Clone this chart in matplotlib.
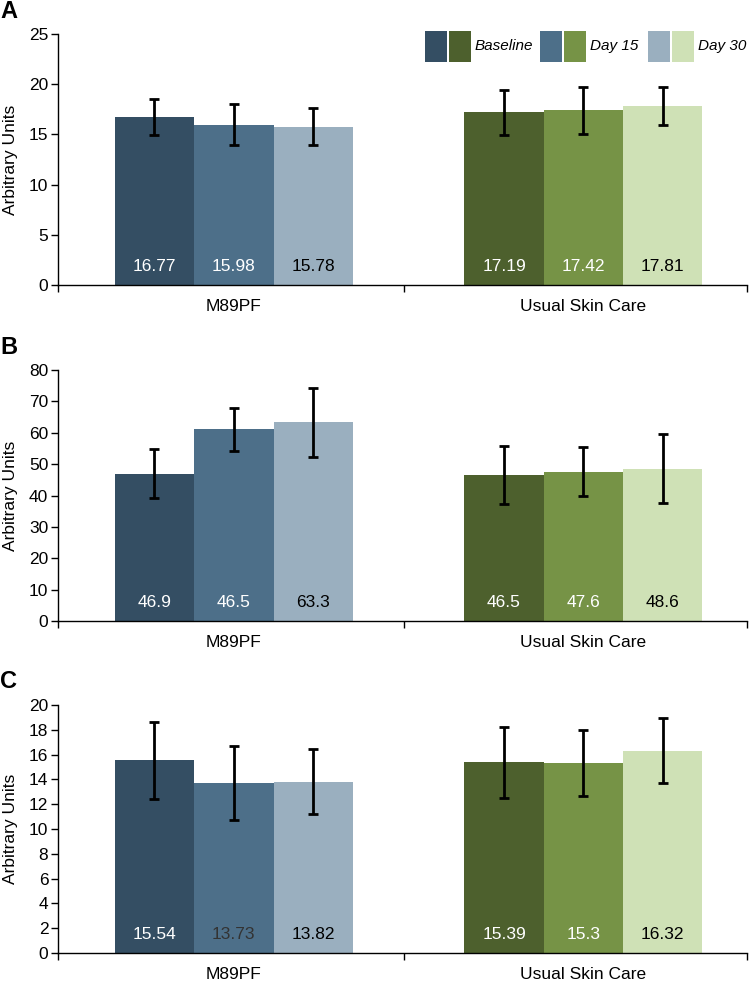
import matplotlib
matplotlib.use("Agg")
import matplotlib.pyplot as plt
from matplotlib.patches import Rectangle
import numpy as np

plt.rcParams['font.family'] = ['Liberation Sans', 'DejaVu Sans']

groups = ["M89PF", "Usual Skin Care"]
timepoints = ["Baseline", "Day 15", "Day 30"]

# Panel A
a_m89 = [16.77, 15.98, 15.78]
a_m89_err = [1.8, 2.0, 1.85]
a_m89_lbl = ["16.77", "15.98", "15.78"]
a_usc = [17.19, 17.42, 17.81]
a_usc_err = [2.25, 2.35, 1.9]
a_usc_lbl = ["17.19", "17.42", "17.81"]

# Panel B
b_m89 = [46.9, 61.1, 63.3]
b_m89_err = [7.8, 6.9, 11.1]
b_m89_lbl = ["46.9", "46.5", "63.3"]
b_usc = [46.5, 47.6, 48.6]
b_usc_err = [9.3, 7.9, 11.0]
b_usc_lbl = ["46.5", "47.6", "48.6"]

# Panel C
c_m89 = [15.54, 13.73, 13.82]
c_m89_err = [3.1, 3.0, 2.65]
c_m89_lbl = ["15.54", "13.73", "13.82"]
c_usc = [15.39, 15.3, 16.32]
c_usc_err = [2.85, 2.65, 2.63]
c_usc_lbl = ["15.39", "15.3", "16.32"]

m89_colors = ["#344E63", "#4D6F89", "#9AAFBF"]
usc_colors = ["#4D602D", "#769346", "#CFE1B6"]

panels = [
    ("A", a_m89, a_m89_err, a_m89_lbl, a_usc, a_usc_err, a_usc_lbl, 25, 5,
     [["white", "white", "black"], ["white", "white", "black"]]),
    ("B", b_m89, b_m89_err, b_m89_lbl, b_usc, b_usc_err, b_usc_lbl, 80, 10,
     [["white", "white", "black"], ["white", "white", "black"]]),
    ("C", c_m89, c_m89_err, c_m89_lbl, c_usc, c_usc_err, c_usc_lbl, 20, 2,
     [["white", "#333333", "black"], ["white", "white", "black"]]),
]

W, H = 750, 982
fig = plt.figure(figsize=(W / 100, H / 100), dpi=100)

ax_left = 58 / W
ax_width = (747 - 58) / W
tops = [34, 370, 705]
bottoms = [285, 621, 953]

bw = 0.227
xlo, xhi = -0.503, 1.468
fs = 12.5

for i, (letter, m, me, ml, u, ue, ul, ymax, ystep, lcolors) in enumerate(panels):
    ax = fig.add_axes([ax_left, 1 - bottoms[i] / H, ax_width, (bottoms[i] - tops[i]) / H])
    for gi, (vals, errs, lbls, cols) in enumerate([(m, me, ml, m89_colors), (u, ue, ul, usc_colors)]):
        xs = gi + (np.arange(3) - 1) * bw
        ax.bar(xs, vals, width=bw, color=cols, edgecolor='none', zorder=2)
        ax.errorbar(xs, vals, yerr=errs, fmt='none', ecolor='black', elinewidth=2,
                    capsize=3.6, capthick=2, zorder=3)
        for x, lab, tc in zip(xs, lbls, lcolors[gi]):
            ax.annotate(lab, (x, 0), xytext=(0, 13), textcoords='offset points',
                        ha='center', va='center', color=tc, fontsize=fs, zorder=4)
    ax.set_xlim(xlo, xhi)
    ax.set_ylim(0, ymax)
    ax.set_yticks(np.arange(0, ymax + 0.01, ystep))
    ax.set_xticks([xlo, 0.487, xhi])
    ax.set_xticklabels([])
    for gi, g in enumerate(groups):
        ax.annotate(g, (gi, 0), xytext=(0, -15.5), textcoords='offset points',
                    ha='center', va='center', fontsize=fs,
                    annotation_clip=False)
    for s in ['top', 'right']:
        ax.spines[s].set_visible(False)
    for s in ['left', 'bottom']:
        ax.spines[s].set_linewidth(1.0)
        ax.spines[s].set_color('black')
    ax.tick_params(axis='y', direction='out', length=5, width=1.0, labelsize=fs, pad=2)
    ax.tick_params(axis='x', direction='out', length=5, width=1.0)
    ax.set_ylabel("Arbitrary Units", fontsize=fs)
    ax.yaxis.set_label_coords(-47 / (747 - 58), 0.5)
    ax.yaxis.label.set_va('center')
    fig.text(0 / W, 1 - (tops[i] - 23) / H, letter, fontsize=17, fontweight='bold',
             ha='left', va='center')

# Legend drawn as paired swatches (figure pixel layout)
leg_x = [425, 540, 648]
sw_w, sw_gap, sw_top, sw_h = 22, 1.5, 30.5, 31
for k, name in enumerate(timepoints):
    x0 = leg_x[k]
    for j, col in enumerate([m89_colors[k], usc_colors[k]]):
        xx = x0 + j * (sw_w + sw_gap)
        fig.add_artist(Rectangle((xx / W, 1 - (sw_top + sw_h) / H), sw_w / W, sw_h / H,
                                 transform=fig.transFigure, facecolor=col, edgecolor='none'))
    fig.text((x0 + 2 * sw_w + sw_gap + 4) / W, 1 - (sw_top + sw_h / 2) / H, name,
             fontsize=11, style='italic', ha='left', va='center')

fig.savefig("out.png", dpi=100)
